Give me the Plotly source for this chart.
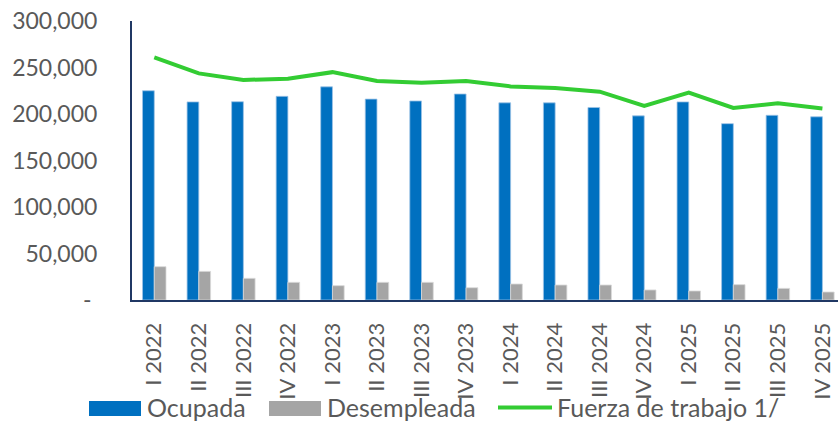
import plotly.graph_objects as go

categories = ["I 2022", "II 2022", "III 2022", "IV 2022",
              "I 2023", "II 2023", "III 2023", "IV 2023",
              "I 2024", "II 2024", "III 2024", "IV 2024",
              "I 2025", "II 2025", "III 2025", "IV 2025"]
ocupada = [225000, 213000, 213200, 219000, 229200, 216000, 214000, 221500,
           212000, 212000, 207000, 198000, 213000, 189600, 198600, 197000]
desempleada = [35800, 30800, 23300, 19000, 15400, 19000, 19000, 13200,
               17200, 16100, 16100, 10800, 9700, 16500, 12500, 8600]
fuerza = [261000, 243700, 236600, 238000, 245000, 235500, 233700, 235500,
          229700, 228000, 224000, 208600, 223000, 206500, 211500, 206000]
y_ticks = [0, 50000, 100000, 150000, 200000, 250000, 300000]
y_ticktext = ["-\u00a0", "50,000", "100,000", "150,000", "200,000", "250,000", "300,000"]
series_names = ["Ocupada", "Desempleada", "Fuerza de trabajo 1/"]
series_colors = ["#0070C0", "#A5A5A5", "#33CC33"]

FONT = "Lato"
GREY_TXT = "#595959"
AXIS = "#203864"
W, H = 838, 422
ML, MR, MT, MB = 132, 0, 21, 122
PW, PH = W - ML - MR, H - MT - MB


def xp(px):
    return (px - ML) / PW


def yp(py):
    return (H - MB - py) / PH


fig = go.Figure()
fig.add_trace(go.Bar(x=categories, y=ocupada, name=series_names[0],
                     marker=dict(color=series_colors[0], line=dict(color="#9DC3E6", width=0.8))))
fig.add_trace(go.Bar(x=categories, y=desempleada, name=series_names[1],
                     marker=dict(color=series_colors[1], line=dict(color="#D9D9D9", width=0.8))))
fig.add_trace(go.Scatter(x=categories, y=fuerza, name=series_names[2],
                         mode="lines", line=dict(color=series_colors[2], width=4)))

# legend drawn as swatches + text (matches the wide swatches of the original)
shapes = [
    dict(type="rect", xref="paper", yref="paper", x0=xp(89), x1=xp(141), y0=yp(416), y1=yp(401),
         fillcolor=series_colors[0], line=dict(width=0)),
    dict(type="rect", xref="paper", yref="paper", x0=xp(269), x1=xp(321), y0=yp(416), y1=yp(401),
         fillcolor=series_colors[1], line=dict(width=0)),
    dict(type="line", xref="paper", yref="paper", x0=xp(498), x1=xp(552), y0=yp(407.5), y1=yp(407.5),
         line=dict(color=series_colors[2], width=4)),
]
annotations = [
    dict(text=series_names[0], x=xp(145), y=yp(407), xref="paper", yref="paper",
         xanchor="left", yanchor="middle", showarrow=False),
    dict(text=series_names[1], x=xp(325), y=yp(407), xref="paper", yref="paper",
         xanchor="left", yanchor="middle", showarrow=False),
    dict(text=series_names[2], x=xp(555), y=yp(407), xref="paper", yref="paper",
         xanchor="left", yanchor="middle", showarrow=False),
]
for a in annotations:
    a["font"] = dict(family=FONT, size=25, color=GREY_TXT)

fig.update_layout(
    width=W, height=H,
    margin=dict(l=ML, r=MR, t=MT, b=MB, autoexpand=False),
    paper_bgcolor="white", plot_bgcolor="white",
    barmode="group", bargap=0.473, bargroupgap=0,
    font=dict(family=FONT, color=GREY_TXT, size=22),
    showlegend=False,
    shapes=shapes, annotations=annotations,
)
fig.update_xaxes(
    type="category", range=[-0.5, 15.35], automargin=False,
    showline=True, linecolor=AXIS, linewidth=2,
    showgrid=False, ticks="", tickangle=-90,
    tickfont=dict(family=FONT, size=22, color=GREY_TXT),
    ticklabelstandoff=12,
)
fig.update_yaxes(
    range=[0, 300000], tickvals=y_ticks, ticktext=y_ticktext, automargin=False,
    showline=True, linecolor=AXIS, linewidth=2,
    showgrid=False, ticks="", zeroline=False,
    tickfont=dict(family=FONT, size=23, color=GREY_TXT),
    ticklabelstandoff=28,
)
fig.write_html("out.html",
               config={"displayModeBar": False},
               post_script="document.body.style.margin='0';document.body.style.padding='0';document.body.style.overflow='hidden';")
